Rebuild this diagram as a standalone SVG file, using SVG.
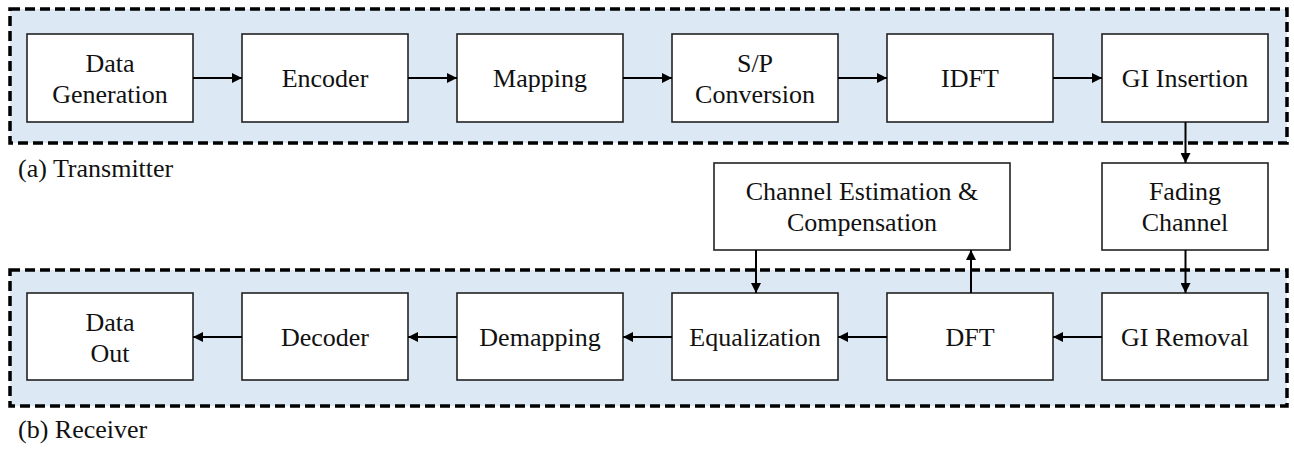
<svg xmlns="http://www.w3.org/2000/svg" width="1294" height="449" viewBox="0 0 1294 449">
  <defs>
    <style>
      .frame { fill: #dde8f5; stroke: #000; stroke-width: 3.5; stroke-dasharray: 10 5; }
      .box { fill: #fff; stroke: #222; stroke-width: 1.6; }
      .lbl { font-family: "Liberation Serif", "Times New Roman", serif; font-size: 26px; fill: #111; text-anchor: middle; }
      .cap { font-family: "Liberation Serif", "Times New Roman", serif; font-size: 26px; fill: #111; }
      .wire { stroke: #000; stroke-width: 2; fill: none; marker-end: url(#head); }
    </style>
    <marker id="head" viewBox="0 0 10 10" refX="10" refY="5" markerWidth="5" markerHeight="5" orient="auto" markerUnits="strokeWidth">
      <path d="M0,0 L10,5 L0,10 z" fill="#000"/>
    </marker>
  </defs>

  <!-- section frames -->
  <rect class="frame" x="10" y="9" width="1277" height="134"/>
  <rect class="frame" x="10" y="270" width="1277" height="136"/>
  <text class="cap" x="18" y="177">(a) Transmitter</text>
  <text class="cap" x="18" y="438">(b) Receiver</text>

  <!-- transmitter chain -->
  <g id="data-generation">
    <rect class="box" x="27" y="34" width="166" height="88"/>
    <text class="lbl" x="110" y="72">Data</text>
    <text class="lbl" x="110" y="103">Generation</text>
  </g>
  <g id="encoder">
    <rect class="box" x="242" y="34" width="166" height="88"/>
    <text class="lbl" x="325" y="87">Encoder</text>
  </g>
  <g id="mapping">
    <rect class="box" x="457" y="34" width="166" height="88"/>
    <text class="lbl" x="540" y="87">Mapping</text>
  </g>
  <g id="sp-conversion">
    <rect class="box" x="672" y="34" width="166" height="88"/>
    <text class="lbl" x="755" y="72">S/P</text>
    <text class="lbl" x="755" y="103">Conversion</text>
  </g>
  <g id="idft">
    <rect class="box" x="887" y="34" width="166" height="88"/>
    <text class="lbl" x="970" y="87">IDFT</text>
  </g>
  <g id="gi-insertion">
    <rect class="box" x="1102" y="34" width="166" height="88"/>
    <text class="lbl" x="1185" y="87">GI Insertion</text>
  </g>

  <!-- middle row -->
  <g id="channel-estimation">
    <rect class="box" x="714" y="163" width="296" height="87"/>
    <text class="lbl" x="862" y="200">Channel Estimation &amp;</text>
    <text class="lbl" x="862" y="231">Compensation</text>
  </g>
  <g id="fading-channel">
    <rect class="box" x="1102" y="163" width="166" height="87"/>
    <text class="lbl" x="1185" y="200">Fading</text>
    <text class="lbl" x="1185" y="231">Channel</text>
  </g>

  <!-- receiver chain -->
  <g id="data-out">
    <rect class="box" x="27" y="293" width="166" height="87"/>
    <text class="lbl" x="110" y="331">Data</text>
    <text class="lbl" x="110" y="362">Out</text>
  </g>
  <g id="decoder">
    <rect class="box" x="242" y="293" width="166" height="87"/>
    <text class="lbl" x="325" y="346">Decoder</text>
  </g>
  <g id="demapping">
    <rect class="box" x="457" y="293" width="166" height="87"/>
    <text class="lbl" x="540" y="346">Demapping</text>
  </g>
  <g id="equalization">
    <rect class="box" x="672" y="293" width="166" height="87"/>
    <text class="lbl" x="755" y="346">Equalization</text>
  </g>
  <g id="dft">
    <rect class="box" x="887" y="293" width="166" height="87"/>
    <text class="lbl" x="970" y="346">DFT</text>
  </g>
  <g id="gi-removal">
    <rect class="box" x="1102" y="293" width="166" height="87"/>
    <text class="lbl" x="1185" y="346">GI Removal</text>
  </g>

  <!-- connectors -->
  <g id="connectors">
    <line class="wire" x1="193" y1="78" x2="242" y2="78"/>
    <line class="wire" x1="408" y1="78" x2="457" y2="78"/>
    <line class="wire" x1="623" y1="78" x2="672" y2="78"/>
    <line class="wire" x1="838" y1="78" x2="887" y2="78"/>
    <line class="wire" x1="1053" y1="78" x2="1102" y2="78"/>
    <line class="wire" x1="1185.5" y1="122" x2="1185.5" y2="163"/>
    <line class="wire" x1="1185.5" y1="250" x2="1185.5" y2="293"/>
    <line class="wire" x1="1102" y1="337" x2="1053" y2="337"/>
    <line class="wire" x1="887" y1="337" x2="838" y2="337"/>
    <line class="wire" x1="672" y1="337" x2="623" y2="337"/>
    <line class="wire" x1="457" y1="337" x2="408" y2="337"/>
    <line class="wire" x1="242" y1="337" x2="193" y2="337"/>
    <line class="wire" x1="756" y1="250" x2="756" y2="293"/>
    <line class="wire" x1="971" y1="293" x2="971" y2="250"/>
  </g>
</svg>
